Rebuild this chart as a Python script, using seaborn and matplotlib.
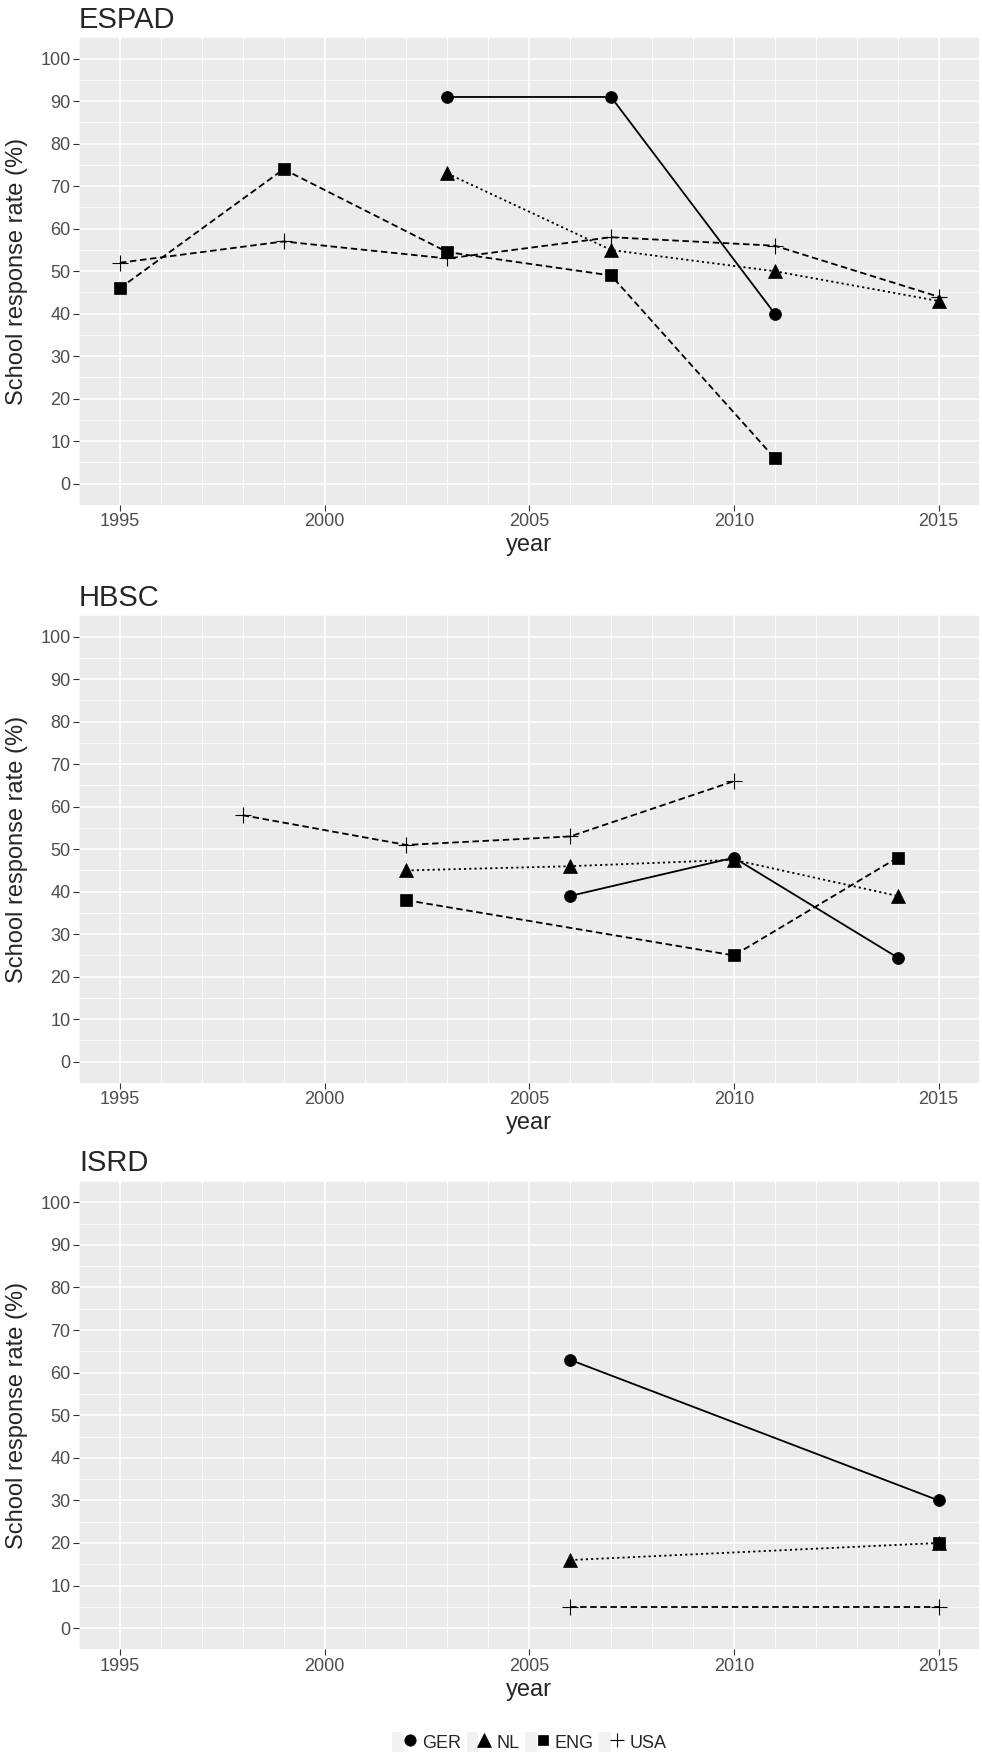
import pandas as pd
import matplotlib
matplotlib.use("Agg")
import matplotlib.pyplot as plt
import matplotlib.patches as mpatches
import seaborn as sns
from matplotlib.lines import Line2D
from matplotlib.legend_handler import HandlerTuple
from matplotlib.ticker import MultipleLocator

# data: (years, school response rate %)
countries = ["GER", "NL", "ENG", "USA"]
surveys = ["ESPAD", "HBSC", "ISRD"]

espad_ger = ([2003, 2007, 2011], [91, 91, 40])
espad_nl = ([2003, 2007, 2011, 2015], [73, 55, 50, 43])
espad_eng = ([1995, 1999, 2003, 2007, 2011], [46, 74, 54.5, 49, 6])
espad_usa = ([1995, 1999, 2003, 2007, 2011, 2015], [52, 57, 53, 58, 56, 44])

hbsc_ger = ([2006, 2010, 2014], [39, 48, 24.5])
hbsc_nl = ([2002, 2006, 2010, 2014], [45, 46, 47.5, 39])
hbsc_eng = ([2002, 2010, 2014], [38, 25, 48])
hbsc_usa = ([1998, 2002, 2006, 2010], [58, 51, 53, 66])

isrd_ger = ([2006, 2015], [63, 30])
isrd_nl = ([2006, 2015], [16, 20])
isrd_eng = ([2015], [20])
isrd_usa = ([2006, 2015], [5, 5])

series = {
    "ESPAD": [espad_ger, espad_nl, espad_eng, espad_usa],
    "HBSC": [hbsc_ger, hbsc_nl, hbsc_eng, hbsc_usa],
    "ISRD": [isrd_ger, isrd_nl, isrd_eng, isrd_usa],
}

rows = []
for s in surveys:
    for c, (yrs, vals) in zip(countries, series[s]):
        for y, v in zip(yrs, vals):
            rows.append({"survey": s, "country": c, "year": y, "rate": v})
df = pd.DataFrame(rows)

markers = {"GER": "o", "NL": "^", "ENG": "s", "USA": "+"}
msizes = {"GER": 8.6, "NL": 10, "ENG": 8, "USA": 11}
mews = {"GER": 0.5, "NL": 0.5, "ENG": 0.5, "USA": 0.8}
styles = {"GER": "-", "NL": (0, (1.2, 1.7)), "ENG": (0, (3.6, 2.0)), "USA": (0, (3.6, 2.0))}

sns.set_style("darkgrid", {"axes.facecolor": "#EBEBEB", "grid.color": "white"})
plt.rcParams["font.family"] = ["Liberation Sans", "DejaVu Sans"]

fig = plt.figure(figsize=(9.82, 17.6), dpi=100)
boxes = [[0.0804, 0.7131, 0.917, 0.2656],
         [0.0804, 0.3847, 0.917, 0.2656],
         [0.0804, 0.0628, 0.917, 0.2662]]

for s, box in zip(surveys, boxes):
    ax = fig.add_axes(box)
    for c in countries:
        sub = df[(df.survey == s) & (df.country == c)]
        sns.lineplot(data=sub, x="year", y="rate", ax=ax, color="black",
                     marker=markers[c], markersize=msizes[c],
                     markeredgecolor="black", markeredgewidth=mews[c],
                     linestyle=styles[c], lw=1.3, errorbar=None, legend=False)
    ax.set_xlim(1994, 2016)
    ax.set_ylim(-5, 105)
    ax.set_xticks(range(1995, 2016, 5))
    ax.set_yticks(range(0, 101, 10))
    ax.xaxis.set_minor_locator(MultipleLocator(1))
    ax.yaxis.set_minor_locator(MultipleLocator(5))
    ax.grid(which="major", color="white", lw=1.1)
    ax.grid(which="minor", color="white", lw=0.55)
    ax.set_axisbelow(True)
    for sp in ax.spines.values():
        sp.set_visible(False)
    ax.tick_params(which="major", length=4, width=0.8, color="#333333",
                   labelsize=13, labelcolor="#4D4D4D", pad=2, bottom=True, left=True)
    ax.tick_params(which="minor", length=0)
    ax.set_xlabel("year", fontsize=17, labelpad=3)
    ax.set_ylabel("School response rate (%)", fontsize=17, labelpad=9)
    ax.set_title(s, loc="left", fontsize=21, pad=7)

# legend keys: light grey box with the black marker on top, centred under the panels
handles = []
for c in countries:
    bg = mpatches.Rectangle((0, 0), 1, 1, facecolor="#F2F2F2", edgecolor="none")
    fg = Line2D([], [], marker=markers[c], markersize=msizes[c] * 0.95, color="black",
                markeredgecolor="black", markeredgewidth=mews[c], ls="")
    handles.append((bg, fg))
fig.legend(handles, countries, loc="center", bbox_to_anchor=(0.539, 0.0102), ncol=4,
           frameon=False, handler_map={tuple: HandlerTuple(ndivide=None, pad=0)},
           handlelength=1.3, handleheight=1.4, handletextpad=0.35,
           columnspacing=0.3, fontsize=13, borderaxespad=0)

fig.savefig("out.png", dpi=100)
